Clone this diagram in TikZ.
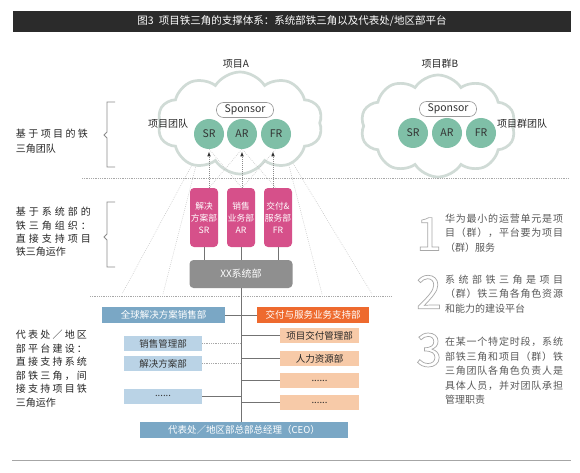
\documentclass[tikz,border=0pt]{standalone}
\usepackage{fontspec}
\setmainfont{Noto Sans CJK SC}
\usetikzlibrary{shapes.symbols,arrows.meta,calc}
\definecolor{titlebg}{HTML}{2B2B2B}
\definecolor{cloudc}{HTML}{D0DBD6}
\definecolor{rolec}{HTML}{7FBFA7}
\definecolor{pinkc}{HTML}{D6508A}
\definecolor{sysc}{HTML}{8F8F8F}
\definecolor{steelc}{HTML}{7AA7C5}
\definecolor{lbluec}{HTML}{BAD3E6}
\definecolor{orangec}{HTML}{EE6A2E}
\definecolor{peachc}{HTML}{F7CAA8}
\definecolor{dotc}{HTML}{A8A8A8}
\definecolor{txtc}{HTML}{5A5A5A}
\def\spreadfirst#1{#1\spreadrest}
\def\spreadrest#1{\ifx#1\relax\else\hskip 0pt plus 1fil #1\expandafter\spreadrest\fi}
\newcommand\sprd[2]{\hbox to #1pt{\spreadfirst#2\relax}}
\newcommand\outlinedigit[1]{\special{pdf:literal direct 1 Tr 0.7 w 0.66 G}#1\special{pdf:literal direct 0 Tr 0 G}}
\begin{document}
\begin{tikzpicture}[x=1pt,y=-1pt,
  every node/.style={inner sep=0pt,outer sep=0pt},
  cloudshape/.style={cloud, cloud puffs=10, cloud puff arc=115, draw=cloudc, line width=2.7pt, fill=white},
  role/.style={circle, fill=rolec, minimum size=30, font=\fontsize{10.5}{12}\selectfont, text=black!80},
  pill/.style={draw=black!40, line width=0.6pt, rounded corners=7pt, fill=white, minimum width=57, minimum height=15, font=\fontsize{10.5}{12}\selectfont, text=black!80},
  pinkbox/.style={fill=pinkc, rounded corners=4pt, minimum width=28, minimum height=59, text=white, align=center, font=\fontsize{8.7}{12}\selectfont},
  sysbox/.style={fill=sysc, rounded corners=4pt, minimum width=103, minimum height=28, text=white, font=\fontsize{10}{12}\selectfont},
  steelbox/.style={fill=steelc, text=white, font=\fontsize{9.5}{12}\selectfont},
  lbluebox/.style={fill=lbluec, text=black!80, minimum width=78, minimum height=15, font=\fontsize{9.5}{12}\selectfont},
  peachbox/.style={fill=peachc, text=black!85, minimum width=79, minimum height=15, font=\fontsize{9.5}{12}\selectfont},
  lbl/.style={font=\fontsize{10}{12}\selectfont, text=black!85},
  lefttxt/.style={font=\fontsize{10}{13.5}\selectfont, text=black!85, align=left, anchor=north west},
  righttxt/.style={font=\fontsize{10}{14.5}\selectfont, text=txtc, align=left, anchor=north west},
  dotline/.style={draw=dotc, line width=0.7pt, dash pattern=on 0.7pt off 1.1pt},
  faint/.style={draw=black!25, line width=0.5pt, dash pattern=on 0.7pt off 1.3pt},
  darr/.style={draw=black!45, line width=0.6pt, dash pattern=on 0.8pt off 1.2pt, -{Triangle[length=4.5pt,width=3.5pt,fill=black!80,line width=0pt]}, shorten >=3pt},
  link/.style={draw=black!55, line width=0.7pt},
  brk/.style={draw=black!45, line width=0.8pt},
  bignum/.style={font=\fontsize{46}{46}\selectfont, text=white}
]
\useasboundingbox (0,0) rectangle (580,473);
\fill[white] (0,0) rectangle (580,473);

% title
\node[fill=titlebg, minimum width=558, minimum height=21, text=white, font=\fontsize{10.5}{12}\selectfont] (title) at (292,21.5) {图3\enspace 项目铁三角的支撑体系：系统部铁三角以及代表处/地区部平台};

% dotted separators
\coordinate (d1a) at (82,178);
\coordinate (d1b) at (569,178);
\coordinate (d2a) at (90,296);
\coordinate (d2b) at (392,296);

% pyramid faint lines
\coordinate (pl1) at (200,150);
\coordinate (pl2) at (122,294);
\coordinate (pl3) at (163,294);
\coordinate (pr1) at (285,150);
\coordinate (pr2) at (372,294);
\coordinate (pr3) at (322,294);
\draw[faint] (pl1) -- (pl2);
\draw[faint] (pl1) -- (pl3);
\draw[faint] (pr1) -- (pr2);
\draw[faint] (pr1) -- (pr3);

% clouds
\node[cloudshape, minimum width=165, minimum height=102] (cloudA) at (240,123) {};
\node[cloudshape, minimum width=155, minimum height=102] (cloudB) at (438,126) {};

\draw[dotline] (d1a) -- (d1b);
\draw[dotline] (d2a) -- (d2b);

\node[lbl] (pA) at (236,64) {项目A};
\node[lbl] (pB) at (440,64) {项目群B};

\node[pill] (spA) at (245,110) {Sponsor};
\node[pill] (spB) at (448,109) {Sponsor};

\node[role] (sra) at (209,134) {SR};
\node[role] (ara) at (242,134) {AR};
\node[role] (fra) at (276,134) {FR};
\node[role] (srb) at (413,133) {SR};
\node[role] (arb) at (447,133) {AR};
\node[role] (frb) at (481,133) {FR};

\node[lbl] (teamA) at (168,124) {项目团队};
\node[lbl, anchor=west] (teamB) at (497,124) {项目群团队};

% pink boxes
\node[pinkbox] (ps) at (204,217.5) {解决\\方案部\\SR};
\node[pinkbox] (pa) at (241,217.5) {销售\\业务部\\AR};
\node[pinkbox] (pf) at (278,217.5) {交付\&\\服务部\\FR};
\node[sysbox] (sys) at (241,274) {XX系统部};

\draw[link] (ps.south) -- (ps.south |- sys.north);
\draw[link] (pa.south) -- (pa.south |- sys.north);
\draw[link] (pf.south) -- (pf.south |- sys.north);

% crossing dotted lines
\draw[faint] (sra |- ps.north) -- (ara.south);
\draw[faint] (ara |- pa.north) -- (sra.south);
\draw[faint] (ara |- pa.north) -- (fra.south);
\draw[faint] (fra |- pf.north) -- (ara.south);

% dotted arrows
\draw[darr] (sra |- ps.north) -- (sra.south);
\draw[darr] (ara |- pa.north) -- (ara.south);
\draw[darr] ([xshift=-3pt]fra.south |- pf.north) -- ([xshift=-3pt]fra.south);

% brackets
\draw[brk] (115,102) -- (107,102) -- (107,132) -- (104,135) -- (107,138) -- (107,167) -- (115,167);
\draw[brk] (115,202) -- (107,202) -- (107,234) -- (104,237) -- (107,240) -- (107,267) -- (115,267);

% left texts
\node[lefttxt, font=\fontsize{10}{15}\selectfont] (L1) at (16,129) {\sprd{72}{基于项目的铁}\\三角团队};
\node[lefttxt, font=\fontsize{10}{13.2}\selectfont] (L2) at (16,207.5) {\sprd{75}{基于系统部的}\\\sprd{75}{铁三角组织：}\\\sprd{75}{直接支持项目}\\铁三角运作};
\node[lefttxt, font=\fontsize{10}{13.6}\selectfont] (L3) at (16,330) {\sprd{71}{代表处／地区}\\\sprd{71}{部平台建设：}\\\sprd{71}{直接支持系统}\\\sprd{71}{部铁三角，间}\\\sprd{71}{接支持项目铁}\\三角运作};

% lower organisation
\node[steelbox, minimum width=123, minimum height=16] (gs) at (163.5,315) {全球解决方案销售部};
\node[fill=orangec, text=white, minimum width=112, minimum height=16, font=\fontsize{9.5}{12}\selectfont] (ds) at (313,315) {交付与服务业务支持部};
\node[steelbox, minimum width=208, minimum height=16] (ceo) at (244,430) {代表处／地区部总部总经理（CEO）};

\node[lbluebox] (sm) at (163,343.5) {销售管理部};
\node[lbluebox] (sd) at (163,363.5) {解决方案部};
\node[lbluebox] (so) at (163,396) {......};

\node[peachbox] (pd) at (319.5,335.5) {项目交付管理部};
\node[peachbox] (hr) at (319.5,358.5) {人力资源部};
\node[peachbox] (o1) at (319.5,380.5) {......};
\node[peachbox] (o2) at (319.5,402.5) {......};

\draw[link] (sys.south) -- (sys.south |- ceo.north);
\draw[link] (gs.east) -- (ds.west);
\draw[dotline] (sm.east) -- (sm.east -| sys.south);
\draw[dotline] (sd.east) -- (sd.east -| sys.south);
\draw[link] (so.east) -- (so.east -| sys.south);
\draw[link] (pd.west -| sys.south) -- (pd.west);
\draw[link] (hr.west -| sys.south) -- (hr.west);
\draw[link] (o1.west -| sys.south) -- (o1.west);
\draw[link] (o2.west -| sys.south) -- (o2.west);

% right column numbers
\node[bignum] (num1) at (429,234) {\outlinedigit{1}};
\node[bignum] (num2) at (429,292) {\outlinedigit{2}};
\node[bignum] (num3) at (429,350) {\outlinedigit{3}};

\node[righttxt] (R1) at (445,214) {\sprd{118}{华为最小的运营单元是项}\\\sprd{118}{目（群），平台要为项目}\\（群）服务};
\node[righttxt] (R2) at (445,275) {\sprd{118}{系统部铁三角是项目}\\\sprd{118}{（群）铁三角各角色资源}\\和能力的建设平台};
\node[righttxt] (R3) at (445,337.5) {\sprd{118}{在某一个特定时段，系统}\\\sprd{118}{部铁三角和项目（群）铁}\\\sprd{118}{三角团队各角色负责人是}\\\sprd{118}{具体人员，并对团队承担}\\管理职责};

% bottom rule
\coordinate (bl) at (12,460);
\coordinate (br) at (571,460);
\draw[draw=black!35, line width=0.8pt] (bl) -- (br);
\end{tikzpicture}
\end{document}
